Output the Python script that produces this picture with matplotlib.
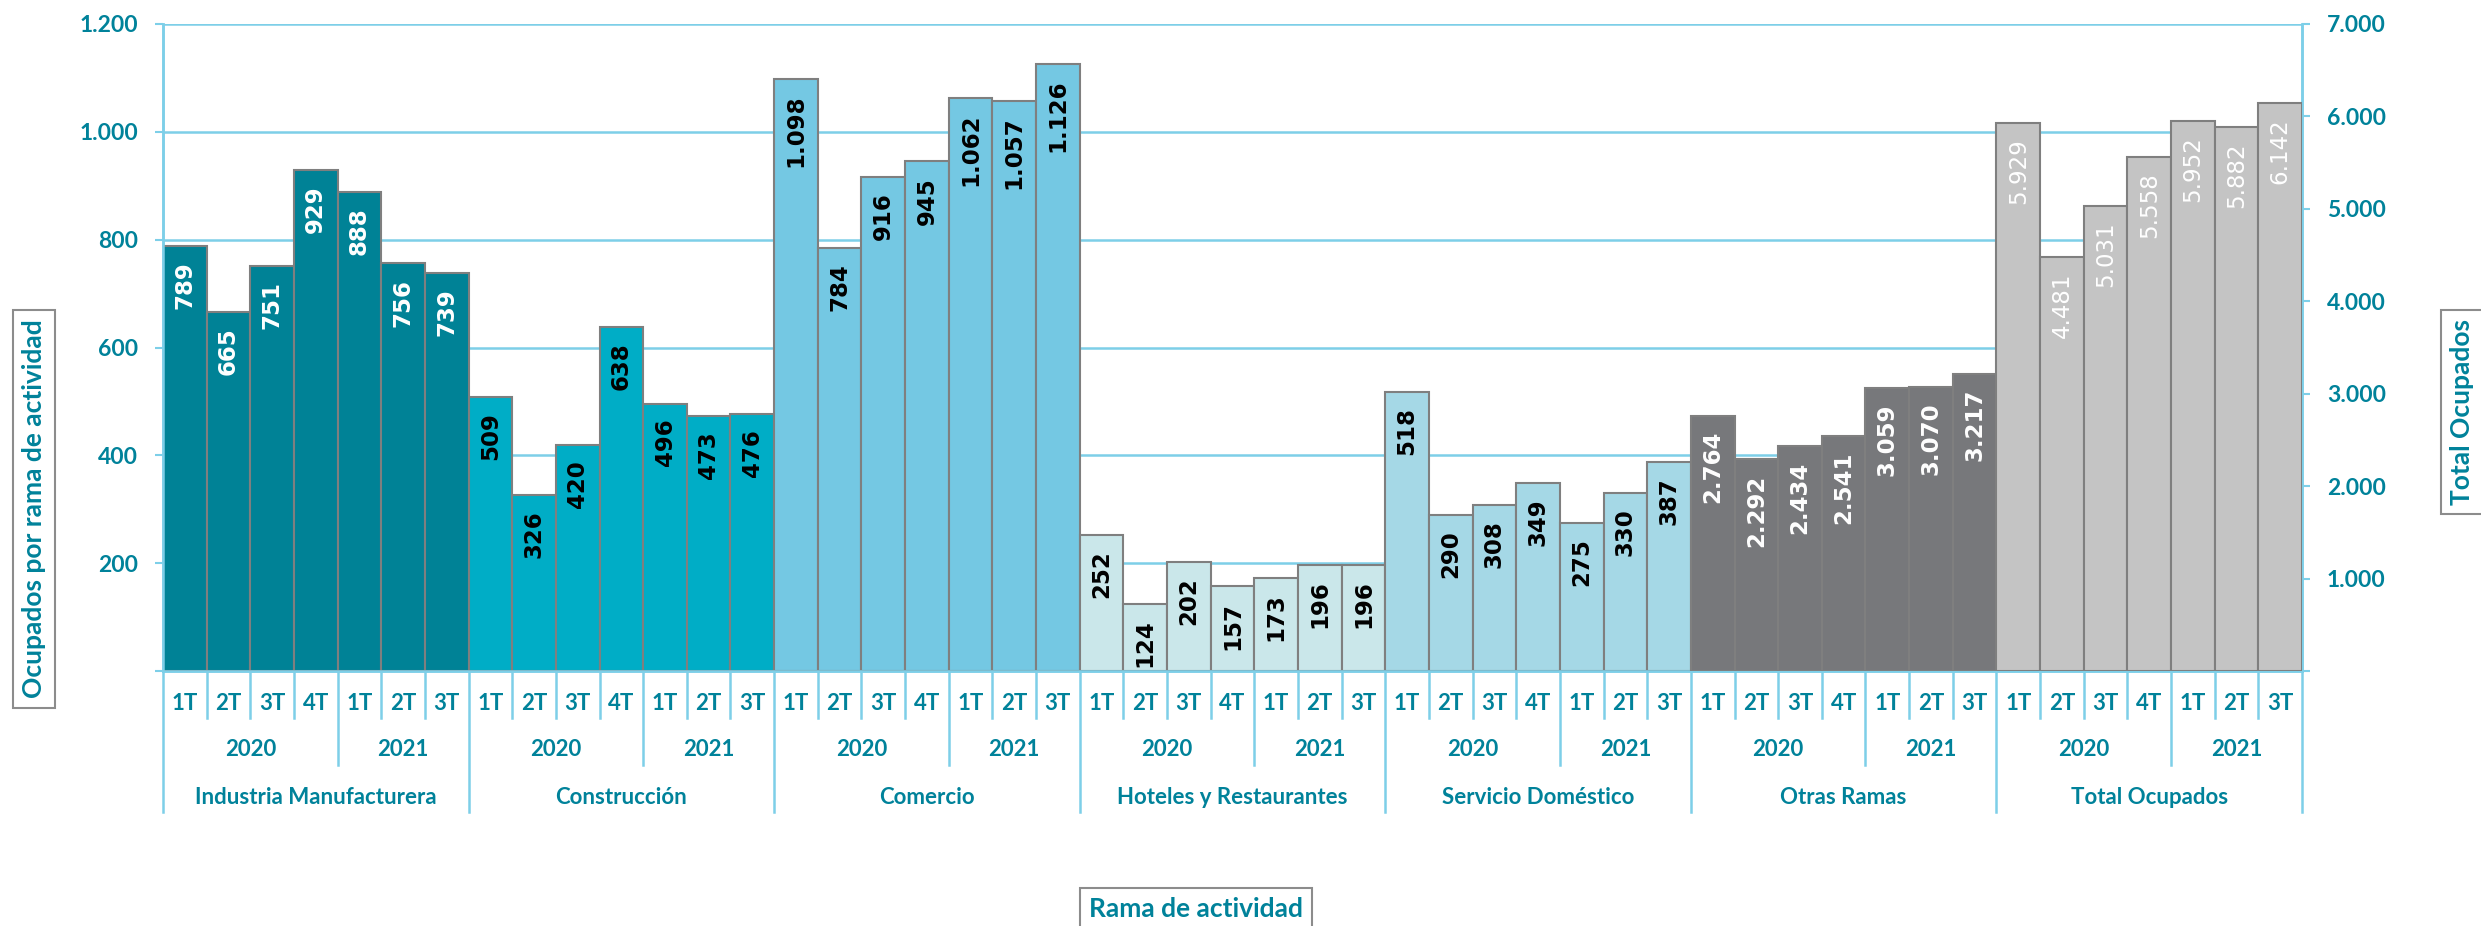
import matplotlib
matplotlib.use('Agg')
import matplotlib.pyplot as plt
from matplotlib.transforms import blended_transform_factory

# Data
quarters = ['1T', '2T', '3T', '4T', '1T', '2T', '3T']
years = ['2020', '2021']
ramas = ['Industria Manufacturera', 'Construcción', 'Comercio',
         'Hoteles y Restaurantes', 'Servicio Doméstico', 'Otras Ramas',
         'Total Ocupados']
industria = [789, 665, 751, 929, 888, 756, 739]
construccion = [509, 326, 420, 638, 496, 473, 476]
comercio = [1098, 784, 916, 945, 1062, 1057, 1126]
hoteles = [252, 124, 202, 157, 173, 196, 196]
servicio = [518, 290, 308, 349, 275, 330, 387]
otras = [2764, 2292, 2434, 2541, 3059, 3070, 3217]      # right axis
total = [5929, 4481, 5031, 5558, 5952, 5882, 6142]      # right axis

teal = '#00829A'
line_blue = '#7DCFE8'
edge = '#7F7F7F'
label_font = 'Lato'

# series, colour, label colour, label weight, use right axis
series = [
    (industria, '#008296', 'white', 'bold', False),
    (construccion, '#00ADC6', 'black', 'bold', False),
    (comercio, '#74C8E3', 'black', 'bold', False),
    (hoteles, '#CAE7EA', 'black', 'bold', False),
    (servicio, '#A5D8E6', 'black', 'bold', False),
    (otras, '#77787B', 'white', 'bold', True),
    (total, '#C4C4C4', 'white', 'normal', True),
]

def fmt(v):
    return f'{v:,}'.replace(',', '.')

fig = plt.figure(figsize=(24.81, 9.26), dpi=100)
ax = fig.add_axes([163 / 2481, 1 - 671 / 926, (2302 - 163) / 2481, (671 - 24) / 926])
ax2 = ax.twinx()

n = len(quarters)
for g, (vals, color, tcolor, weight, right) in enumerate(series):
    target = ax2 if right else ax
    xs = [g * n + i for i in range(n)]
    target.bar(xs, vals, width=1.0, color=color, edgecolor=edge, linewidth=1.5, zorder=3)
    for x, v in zip(xs, vals):
        target.annotate(fmt(v), (x, v), xytext=(0, -11), textcoords='offset points',
                        rotation=90, ha='center', va='top', fontsize=16.5,
                        fontweight=weight, color=tcolor, family='DejaVu Sans', zorder=4)

total_bars = n * len(series)
ax.set_xlim(-0.5, total_bars - 0.5)
ax.set_ylim(0, 1200)
ax2.set_ylim(0, 7000)

ax.set_yticks(range(0, 1201, 200))
ax.set_yticklabels([''] + [fmt(v) for v in range(200, 1201, 200)])
ax2.set_yticks(range(0, 7001, 1000))
ax2.set_yticklabels([''] + [fmt(v) for v in range(1000, 7001, 1000)])
ax.set_xticks([])

for a in (ax, ax2):
    a.tick_params(axis='y', length=6, width=1.5, color=line_blue, pad=12,
                  labelsize=16.5, labelcolor=teal)
    for lab in a.get_yticklabels():
        lab.set_family(label_font)
        lab.set_fontweight('bold')
    a.spines['top'].set_visible(False)
    for s in ('left', 'right', 'bottom'):
        a.spines[s].set_color(line_blue)
        a.spines[s].set_linewidth(1.8)

ax.yaxis.grid(True, color=line_blue, linewidth=1.8, zorder=0)
ax.set_axisbelow(True)

# hierarchical category axis below the plot
tr = blended_transform_factory(ax.transData, fig.transFigure)
y_axis = 1 - 671 / 926
y_q_line, y_y_line, y_g_line = 1 - 718 / 926, 1 - 765 / 926, 1 - 812 / 926
y_q_text, y_y_text, y_g_text = 1 - 703 / 926, 1 - 749 / 926, 1 - 797 / 926

for k in range(total_bars + 1):
    x = k - 0.5
    pos = k % n
    if pos == 0:
        y_end = y_g_line
    elif pos == 4:
        y_end = y_y_line
    else:
        y_end = y_q_line
    ax.plot([x, x], [y_axis, y_end], transform=tr, color=line_blue, lw=1.8, clip_on=False)

for g, rama in enumerate(ramas):
    base = g * n
    for i, q in enumerate(quarters):
        ax.text(base + i, y_q_text, q, transform=tr, ha='center', va='center',
                fontsize=16, fontweight='bold', color=teal, family=label_font)
    ax.text(base + 1.5, y_y_text, years[0], transform=tr, ha='center', va='center',
            fontsize=16, fontweight='bold', color=teal, family=label_font)
    ax.text(base + 5, y_y_text, years[1], transform=tr, ha='center', va='center',
            fontsize=16, fontweight='bold', color=teal, family=label_font)
    ax.text(base + 3, y_g_text, rama, transform=tr, ha='center', va='center',
            fontsize=16, fontweight='bold', color=teal, family=label_font)

# boxed axis titles
box = dict(boxstyle='square,pad=0.35', facecolor='white', edgecolor='#8C8C8C', linewidth=1.5)
fig.text(34 / 2481, 1 - 509 / 926, 'Ocupados por rama de actividad', rotation=90,
         ha='center', va='center', fontsize=19, fontweight='bold', color=teal,
         family=label_font, bbox=box)
fig.text(2462 / 2481, 1 - 412 / 926, 'Total Ocupados', rotation=90,
         ha='center', va='center', fontsize=19, fontweight='bold', color=teal,
         family=label_font, bbox=box)
fig.text(1196 / 2481, 1 - 909 / 926, 'Rama de actividad', ha='center', va='center',
         fontsize=19, fontweight='bold', color=teal, family=label_font, bbox=box)

fig.savefig('out.png', dpi=100)
